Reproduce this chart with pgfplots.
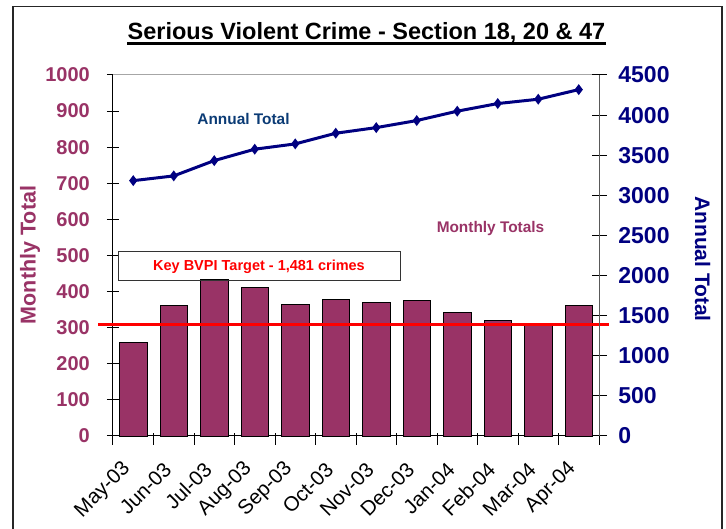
\documentclass[border=0pt]{standalone}
\usepackage{pgfplots}
\pgfplotsset{compat=1.18}
\usepackage{fontspec}
\setmainfont{Liberation Sans}
\definecolor{plum}{HTML}{993366}
\definecolor{navy}{HTML}{000080}
\definecolor{atblue}{HTML}{0B3B75}
\begin{document}
\begin{tikzpicture}[x=1pt,y=1pt]
\path[use as bounding box] (0,0) rectangle (726,529);
\draw[black!85, line width=1.2pt] (13,0) -- (13,522.3) -- (722,522.3) -- (722,0);
\begin{axis}[
  at={(113pt,93pt)}, anchor=south west,
  scale only axis, width=486pt, height=361pt,
  xmin=-0.5, xmax=11.5, ymin=0, ymax=1000,
  axis x line*=bottom, axis y line*=left,
  xtick={-0.5,0.5,...,11.5},
  xticklabels={},
  extra x ticks={0,1,...,11},
  extra x tick labels={May-03,Jun-03,Jul-03,Aug-03,Sep-03,Oct-03,Nov-03,Dec-03,Jan-04,Feb-04,Mar-04,Apr-04},
  extra x tick style={major tick length=0pt},
  ytick={0,100,...,1000},
  tick align=center, major tick length=12pt,
  x tick style={yshift=-3pt},
  xticklabel style={yshift=-30pt, xshift=-6pt, rotate=45, anchor=east, inner sep=0pt, font=\fontsize{20.5}{20.5}\selectfont},
  yticklabel style={anchor=east, inner sep=0pt, xshift=-17pt, font=\fontsize{20}{20}\selectfont\bfseries, text=plum},
  /pgf/number format/assume math mode=true,
  /pgf/number format/1000 sep={},
  scaled y ticks=false,
  clip=false,
  axis line style={black, line width=1pt},
  tick style={black, line width=1pt},
]
\draw[gray!70, line width=1pt] (rel axis cs:0,1) -- (rel axis cs:1,1);
\addplot[ybar, bar width=27.5pt, fill=plum, draw=black, line width=0.8pt] coordinates {
(0,260) (1,362) (2,433) (3,412) (4,364) (5,377) (6,371) (7,375) (8,343) (9,319) (10,308) (11,362)};
\addplot[red, line width=3pt, sharp plot, mark=none] coordinates {(-0.87,310) (11.75,310)};
\end{axis}
\begin{axis}[
  at={(113pt,93pt)}, anchor=south west,
  scale only axis, width=486pt, height=361pt,
  xmin=-0.5, xmax=11.5, ymin=0, ymax=4500,
  axis y line*=right, axis x line=none,
  ytick={0,500,...,4500},
  tick align=center, major tick length=15pt,
  yticklabel style={anchor=west, inner sep=0pt, xshift=11.7pt, font=\fontsize{23}{23}\selectfont\bfseries, text=navy},
  /pgf/number format/assume math mode=true,
  /pgf/number format/1000 sep={},
  scaled y ticks=false,
  clip=false,
  axis line style={black!65, line width=1pt},
  tick style={black, line width=1pt},
]
\addplot[navy, line width=3pt, mark=diamond*, mark size=3pt] coordinates {
(0,3183) (1,3242) (2,3433) (3,3575) (4,3641) (5,3774) (6,3844) (7,3932) (8,4049) (9,4144) (10,4198) (11,4318)};
\end{axis}
\node[font=\fontsize{23.5}{28}\selectfont\bfseries, anchor=base, inner sep=0pt] at (366.5,489.7) {Serious Violent Crime - Section 18, 20 \& 47};
\draw[line width=3pt] (127,485.3) -- (606,485.3);
\node[draw=black!80, line width=1pt, minimum width=282pt, minimum height=29pt, inner sep=0pt,
  font=\fontsize{14.5}{17}\selectfont\bfseries, text=red] at (259,262.5) {Key BVPI Target - 1,481 crimes};
\node[font=\fontsize{15.4}{18}\selectfont\bfseries, text=atblue, anchor=base, inner sep=0pt] at (243.5,404) {Annual Total};
\node[font=\fontsize{15.4}{18}\selectfont\bfseries, text=plum, anchor=base, inner sep=0pt] at (490.5,296) {Monthly Totals};
\node[font=\fontsize{21.5}{24}\selectfont\bfseries, text=plum, rotate=90, inner sep=0pt] at (30,274) {Monthly Total};
\node[font=\fontsize{21}{24}\selectfont\bfseries, text=navy, rotate=-90, inner sep=0pt] at (702.5,270) {Annual Total};
\end{tikzpicture}
\end{document}
